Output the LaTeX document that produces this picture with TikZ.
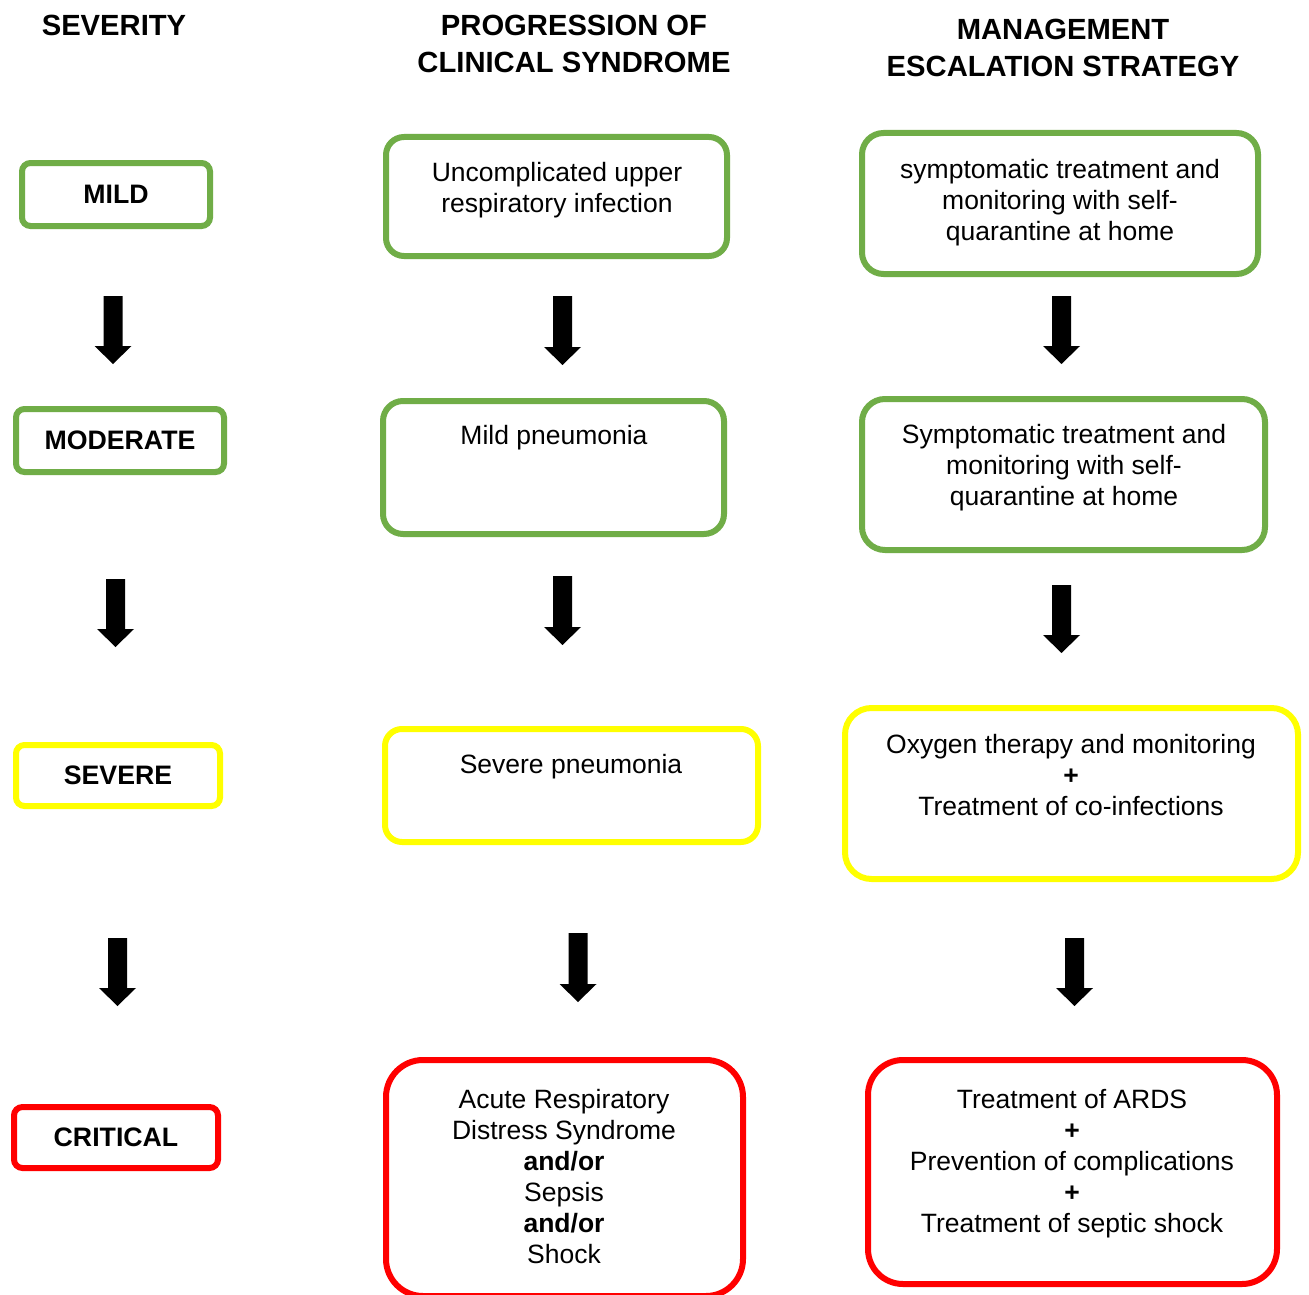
\documentclass[tikz,border=0pt]{standalone}
\usepackage{fontspec}
\setmainfont{Liberation Sans}
\usetikzlibrary{calc}
\definecolor{boxgreen}{HTML}{70AD47}
\definecolor{boxyellow}{HTML}{FFFF00}
\definecolor{boxred}{HTML}{FF0000}
\newcommand\blockarrow[2]{%
  \fill[black] ($(#1)+(-9.5,0)$) -- ($(#1)+(9.5,0)$) -- ($(#2)+(9.5,-18)$)
    -- ($(#2)+(18.5,-18)$) -- (#2) -- ($(#2)+(-18.5,-18)$) -- ($(#2)+(-9.5,-18)$) -- cycle;}
\tikzset{
  box/.style={draw, line width=6pt, inner sep=0pt, fill=none},
  greenbox/.style={box, draw=boxgreen},
  yellowbox/.style={box, draw=boxyellow},
  redbox/.style={box, draw=boxred},
  label/.style={font=\fontsize{26.7}{31}\selectfont\bfseries},
  body/.style={anchor=north, inner sep=0pt, align=center, font=\fontsize{26.5}{31}\selectfont},
  header/.style={anchor=north, inner sep=0pt, align=center, font=\fontsize{29.2}{36.5}\selectfont\bfseries},
}
\begin{document}
\begin{tikzpicture}[x=1pt, y=-1pt]
\useasboundingbox (0,0) rectangle (1309,1295);
\fill[white] (0,0) rectangle (1309,1295);

% headers
\node[header] (h1) at (114,13) {\rule{0pt}{22pt}SEVERITY};
\node[header] (h2) at (574,13.5) {\rule{0pt}{22pt}PROGRESSION OF\\CLINICAL SYNDROME};
\node[header] (h3) at (1063,17.5) {\rule{0pt}{22pt}MANAGEMENT\\ESCALATION STRATEGY};

% severity column
\node[greenbox, label, minimum width=188pt, minimum height=63pt, rounded corners=8.5pt] (mild) at (116,194.5) {MILD};
\node[greenbox, label, minimum width=208pt, minimum height=63pt, rounded corners=8.5pt] (moderate) at (120,440.5) {MODERATE};
\node[yellowbox, label, minimum width=204pt, minimum height=61pt, rounded corners=8.5pt] (severe) at (118,775.5) {SEVERE};
\node[redbox, label, minimum width=204pt, minimum height=61pt, rounded corners=8.5pt] (critical) at (116,1137.5) {CRITICAL};

% progression column
\node[greenbox, minimum width=341pt, minimum height=119pt, rounded corners=18pt] (p1) at (556.5,196.5) {};
\node[greenbox, minimum width=341pt, minimum height=133pt, rounded corners=20pt] (p2) at (553.5,467.5) {};
\node[yellowbox, minimum width=373pt, minimum height=113pt, rounded corners=17pt] (p3) at (571.5,785.5) {};
\node[redbox, minimum width=357pt, minimum height=236pt, rounded corners=37pt] (p4) at (564.5,1178) {};

\node[body] (p1t) at (557,161) {\rule{0pt}{20pt}Uncomplicated upper\\respiratory infection};
\node[body] (p2t) at (554,424) {\rule{0pt}{20pt}Mild pneumonia};
\node[body] (p3t) at (571,753) {\rule{0pt}{20pt}Severe pneumonia};
\node[body] (p4t) at (564,1088) {\rule{0pt}{20pt}Acute Respiratory\\Distress Syndrome\\\textbf{and/or}\\Sepsis\\\textbf{and/or}\\Shock};

% management column
\node[greenbox, minimum width=396pt, minimum height=141pt, rounded corners=21.5pt] (m1) at (1060,203.5) {};
\node[greenbox, minimum width=403pt, minimum height=151pt, rounded corners=23pt] (m2) at (1063.5,474.5) {};
\node[yellowbox, minimum width=453pt, minimum height=171pt, rounded corners=26.5pt] (m3) at (1071.5,793.5) {};
\node[redbox, minimum width=409pt, minimum height=224pt, rounded corners=35pt] (m4) at (1072.5,1172) {};

\node[body] (m1t) at (1060,158) {\rule{0pt}{20pt}symptomatic treatment and\\monitoring with self-\\quarantine at home};
\node[body] (m2t) at (1064,423) {\rule{0pt}{20pt}Symptomatic treatment and\\monitoring with self-\\quarantine at home};
\node[body] (m3t) at (1071,733) {\rule{0pt}{20pt}Oxygen therapy and monitoring\\\textbf{+}\\Treatment of co-infections};
\node[body] (m4t) at (1072,1088) {\rule{0pt}{20pt}Treatment of ARDS\\\textbf{+}\\Prevention of complications\\\textbf{+}\\Treatment of septic shock};

% block arrows
\coordinate (s1a) at (113,296);    \coordinate (s1b) at (113,364);
\coordinate (s2a) at (115.5,579);  \coordinate (s2b) at (115.5,647);
\coordinate (s3a) at (117.5,938);  \coordinate (s3b) at (117.5,1006);
\coordinate (q1a) at (562.5,296);  \coordinate (q1b) at (562.5,365);
\coordinate (q2a) at (562.5,576);  \coordinate (q2b) at (562.5,645);
\coordinate (q3a) at (578,933);    \coordinate (q3b) at (578,1002);
\coordinate (r1a) at (1061.5,296); \coordinate (r1b) at (1061.5,364);
\coordinate (r2a) at (1061.5,585); \coordinate (r2b) at (1061.5,653);
\coordinate (r3a) at (1074.5,938); \coordinate (r3b) at (1074.5,1006);
\blockarrow{s1a}{s1b}
\blockarrow{s2a}{s2b}
\blockarrow{s3a}{s3b}
\blockarrow{q1a}{q1b}
\blockarrow{q2a}{q2b}
\blockarrow{q3a}{q3b}
\blockarrow{r1a}{r1b}
\blockarrow{r2a}{r2b}
\blockarrow{r3a}{r3b}
\end{tikzpicture}
\end{document}
